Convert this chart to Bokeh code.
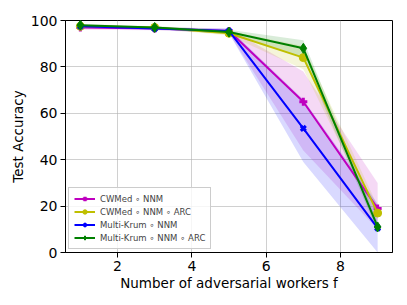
from bokeh.plotting import figure
from bokeh.models import Range1d, Legend, LegendItem, ColumnDataSource, FixedTicker
from bokeh.embed import file_html
from bokeh.resources import INLINE

x = [1, 3, 5, 7, 9]
cwmed_nnm = [97.0, 96.5, 95.5, 65.0, 19.0]
cwmed_nnm_lo = [96.0, 95.8, 94.5, 44.0, 10.0]
cwmed_nnm_hi = [98.0, 97.2, 96.5, 78.0, 30.0]
cwmed_arc = [97.5, 97.0, 94.5, 84.0, 17.0]
cwmed_arc_lo = [97.0, 96.5, 93.5, 79.0, 14.0]
cwmed_arc_hi = [98.0, 97.5, 95.5, 89.0, 20.0]
krum_nnm = [97.5, 96.5, 95.5, 53.5, 10.5]
krum_nnm_lo = [97.0, 96.0, 94.5, 39.0, 0.0]
krum_nnm_hi = [98.0, 97.0, 96.5, 66.0, 21.0]
krum_arc = [98.0, 97.0, 95.0, 88.0, 11.0]
krum_arc_lo = [97.5, 96.5, 94.0, 84.0, 9.0]
krum_arc_hi = [98.5, 97.5, 96.0, 91.5, 13.0]

labels = ["CWMed \u2218 NNM", "CWMed \u2218 NNM \u2218 ARC",
          "Multi-Krum \u2218 NNM", "Multi-Krum \u2218 NNM \u2218 ARC"]
colors = ["#bf00bf", "#bfbf00", "#0000ff", "#008000"]
markers = ["cross", "circle", "x", "diamond"]
series = [(cwmed_nnm, cwmed_nnm_lo, cwmed_nnm_hi),
          (cwmed_arc, cwmed_arc_lo, cwmed_arc_hi),
          (krum_nnm, krum_nnm_lo, krum_nnm_hi),
          (krum_arc, krum_arc_lo, krum_arc_hi)]

FONT = "DejaVu Sans"

p = figure(output_backend="svg", toolbar_location=None,
           width=400, height=300, frame_width=327, frame_height=232,
           min_border_left=65, min_border_top=20, min_border_right=8, min_border_bottom=48,
           x_range=Range1d(0.6, 9.4), y_range=Range1d(0, 100))

p.outline_line_color = "black"
p.outline_line_width = 1
p.xgrid.grid_line_color = "#b0b0b0"
p.ygrid.grid_line_color = "#b0b0b0"
p.xgrid.grid_line_alpha = 0.6
p.ygrid.grid_line_alpha = 0.6
p.xaxis.ticker = FixedTicker(ticks=[2, 4, 6, 8])
p.yaxis.ticker = FixedTicker(ticks=[0, 20, 40, 60, 80, 100])
for ax in (p.xaxis, p.yaxis):
    ax.major_label_text_font = FONT
    ax.major_label_text_font_size = "14px"
    ax.major_label_text_color = "black"
    ax.axis_label_text_font = FONT
    ax.axis_label_text_font_size = "13.5px"
    ax.axis_label_text_font_style = "normal"
    ax.axis_label_text_color = "black"
    ax.minor_tick_line_color = None
    ax.major_tick_in = 0
    ax.major_tick_out = 5
    ax.axis_line_color = "black"
p.xaxis.axis_label = "Number of adversarial workers f"
p.yaxis.axis_label = "Test Accuracy"
p.xaxis.axis_label_standoff = 1
p.yaxis.axis_label_standoff = 2
p.xaxis.major_label_standoff = 3
p.yaxis.major_label_standoff = 3

for (m, lo, hi), c in zip(series, colors):
    p.varea(x=x, y1=lo, y2=hi, fill_color=c, fill_alpha=0.15)

items = []
for (m, lo, hi), c, mk, lab in zip(series, colors, markers, labels):
    src = ColumnDataSource(dict(x=x, y=m))
    ln = p.line("x", "y", source=src, line_color=c, line_width=2)
    if mk == "x":
        sc = p.scatter("x", "y", source=src, marker="x", size=7, line_color=c, line_width=3)
    elif mk == "cross":
        sc = p.scatter("x", "y", source=src, marker="cross", size=8, line_color=c, line_width=3)
    else:
        sc = p.scatter("x", "y", source=src, marker=mk, size=10 if mk == "diamond" else 8,
                       fill_color=c, line_color=c)
    items.append(LegendItem(label=lab, renderers=[ln, sc]))

legend = Legend(items=items, location="bottom_left")
legend.label_text_font = FONT
legend.label_text_font_size = "8.5px"
legend.label_height = 11
legend.glyph_height = 11
legend.glyph_width = 21
legend.label_standoff = 5
legend.spacing = 2
legend.padding = 5
legend.margin = 3
legend.border_line_color = "#cccccc"
legend.border_line_alpha = 1
legend.background_fill_alpha = 0.8
p.add_layout(legend)

open("out.html", "w").write(file_html(p, INLINE))
